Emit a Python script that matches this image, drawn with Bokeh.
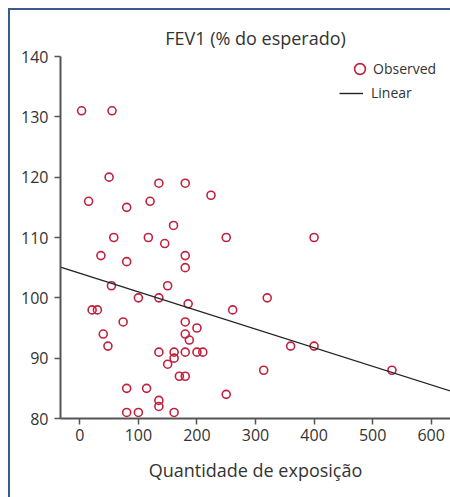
from bokeh.plotting import figure
from bokeh.models import Range1d, FixedTicker, Legend, LegendItem
from bokeh.embed import file_html
from bokeh.resources import INLINE

# exposure (x) and FEV1 % predicted (y)
exposure = [3, 55, 50, 135, 180, 224, 15, 80, 120, 160,
            58, 117, 250, 145, 36, 180, 80, 180, 400, 54,
            150, 100, 135, 185, 21, 30, 261, 74, 180, 200,
            40, 180, 187, 48, 135, 161, 180, 200, 210, 161,
            150, 170, 180, 80, 114, 250, 135, 135, 80, 100,
            161, 320, 360, 400, 314, 533]
fev1 = [131, 131, 120, 119, 119, 117, 116, 115, 116, 112,
        110, 110, 110, 109, 107, 107, 106, 105, 110, 102,
        102, 100, 100, 99, 98, 98, 98, 96, 96, 95,
        94, 94, 93, 92, 91, 91, 91, 91, 91, 90,
        89, 87, 87, 85, 85, 84, 83, 82, 81, 81,
        81, 100, 92, 92, 88, 88]

# linear fit line
fit_x = [-33, 633]
fit_y = [105.1, 84.55]

x_ticks = [0, 100, 200, 300, 400, 500, 600]
y_ticks = [80, 90, 100, 110, 120, 130, 140]

FONT = "Open Sans"
TXT = "#333333"
AX = "#555555"
RED = "#c0213c"

p = figure(width=442, height=489, output_backend="svg", toolbar_location=None,
           x_range=Range1d(-33, 633), y_range=Range1d(80, 140),
           min_border_left=50, min_border_right=2, min_border_top=46,
           min_border_bottom=81, title="FEV1 (% do esperado)")
p.styles = {"margin-left": "8px", "margin-top": "8px",
            "border-left": "2px solid #3b5a8c", "border-top": "2px solid #3b5a8c",
            "box-sizing": "border-box"}
p.outline_line_color = None
p.grid.visible = False
p.background_fill_color = "white"
p.border_fill_color = "white"

p.title.align = "center"
p.title.text_font = FONT
p.title.text_font_style = "normal"
p.title.text_font_size = "18px"
p.title.text_color = TXT
p.title.offset = 0
p.title.standoff = 14

for ax in (p.xaxis[0], p.yaxis[0]):
    ax.axis_line_color = AX
    ax.axis_line_width = 2
    ax.major_tick_line_color = AX
    ax.major_tick_line_width = 1.5
    ax.major_tick_out = 6
    ax.major_tick_in = 0
    ax.minor_tick_line_color = None
    ax.major_label_text_font = FONT
    ax.major_label_text_font_size = "16px"
    ax.major_label_text_color = TXT
    ax.axis_label_text_font = FONT
    ax.axis_label_text_font_size = "18px"
    ax.axis_label_text_font_style = "normal"
    ax.axis_label_text_color = TXT

p.xaxis.ticker = FixedTicker(ticks=x_ticks)
p.yaxis.ticker = FixedTicker(ticks=y_ticks)
p.xaxis.axis_label = "Quantidade de exposição"
p.xaxis.axis_label_standoff = 14
p.yaxis.major_label_standoff = 6
p.xaxis.major_label_standoff = 4

r_pts = p.scatter(exposure, fev1, size=8, marker="circle", fill_color=None,
                  line_color=RED, line_width=1.6)
r_line = p.line(fit_x, fit_y, line_color="#222222", line_width=1.4)

common = dict(border_line_color=None, background_fill_alpha=0,
              label_text_font=FONT, label_text_font_size="14px",
              label_text_color=TXT, padding=0, margin=0, spacing=0)
leg1 = Legend(items=[LegendItem(label="Observed", renderers=[r_pts])],
              location=(286, 336), glyph_width=27, glyph_height=27,
              label_standoff=0, **common)
leg2 = Legend(items=[LegendItem(label="Linear", renderers=[r_line])],
              location=(279, 316), glyph_width=24, glyph_height=14,
              label_standoff=8, **common)
p.add_layout(leg1)
p.add_layout(leg2)

open("out.html", "w").write(file_html(p, INLINE))
